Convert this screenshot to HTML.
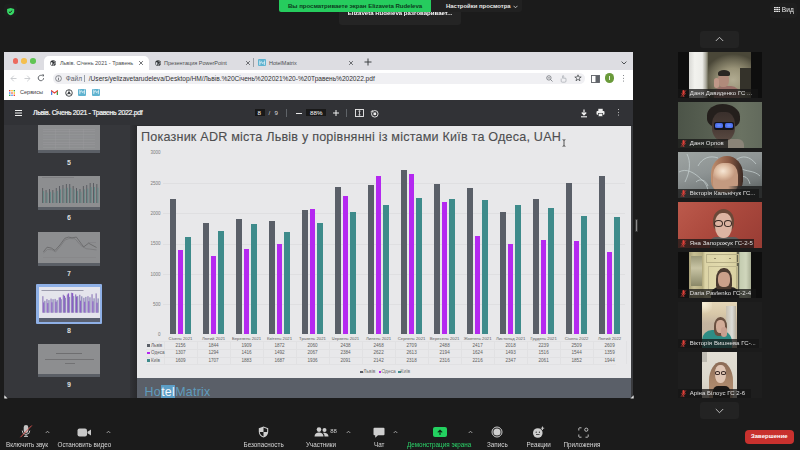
<!DOCTYPE html>
<html><head><meta charset="utf-8">
<style>
*{margin:0;padding:0;box-sizing:border-box}
html,body{width:800px;height:450px;overflow:hidden;background:#1b1b1b;font-family:"Liberation Sans",sans-serif}
.abs{position:absolute}
div{position:absolute}
span{white-space:nowrap}
/* zoom top */
#shield{left:4px;top:4px;width:13px;height:13px;border-radius:3px;background:#1e1e1e}
#banner{left:279px;top:0;width:152px;height:11.5px;background:#26cc5e;border-radius:0 0 0 2px;z-index:5}
#banner span{position:absolute;left:9px;top:2.3px;font-size:6.1px;font-weight:bold;color:#0c3d1d;letter-spacing:-0.05px}
#vset{left:431px;top:0;width:91px;height:12px;background:#212121;border-radius:0 0 3px 0}
#vset span{position:absolute;left:15px;top:2.6px;font-size:5.95px;font-weight:bold;color:#e8e8e8}
#tip{left:339px;top:11.5px;width:122px;height:13px;background:#242424;border-radius:0 0 3px 3px}
#tip span{position:absolute;left:8.7px;top:-1.3px;font-size:6.05px;font-weight:bold;color:#fff}
#vid{left:770px;top:2.5px;width:27px;height:15px;background:#1e1e1e;border-radius:3px}
#vid span{position:absolute;left:11.8px;top:3.8px;font-size:6.6px;color:#e8e8e8}
/* chrome */
#win{left:4px;top:52px;width:629px;height:346px;background:#fff;overflow:hidden}
#tabbar{left:0;top:0;width:629px;height:18px;background:#dddde2}
.dot{width:5.6px;height:5.6px;border-radius:50%;top:6.2px}
.tab{top:3.6px;height:14.4px}
.tab span{position:absolute;top:4.6px;font-size:5.5px;color:#4a4d50}
.x{position:absolute;font-size:8px;color:#555;top:1.6px}
#omni{left:48.8px;top:20.6px;width:532px;height:11.4px;background:#f0f0f3;border-radius:6px}
#omni span{position:absolute;top:2px;font-size:6.6px}
#bm{left:0;top:33px;width:629px;height:15px;background:#fff}
#pdftb{left:0;top:48px;width:629px;height:25px;background:#313236}
#pdftb span{position:absolute;color:#fff}
#side{left:0;top:73px;width:126px;height:280px;background:#36373b}
#sidegap{left:126px;top:73px;width:7px;height:280px;background:linear-gradient(90deg,#323337,#29292c)}
.thumb{left:34px;width:62px;height:34px;background:#8d8e90}
.thumb .ft{left:0;bottom:0;width:100%;height:3px;background:#5b5f66}
.tnum{left:60px;width:10px;text-align:center;font-size:6.3px;color:#eceef0;-webkit-text-stroke:0.2px #eceef0}
/* slide */
#slide{left:133px;top:74px;width:494px;height:280px;background:#e8e8ea;overflow:hidden}
#slidefoot{left:0;top:252px;width:494px;height:28px;background:#5a5f68}
#title{left:4px;top:3.8px;font-size:12.6px;color:#4e4e50;white-space:nowrap;letter-spacing:0.2px;-webkit-text-stroke:0.12px #4e4e50}
/* chart elements positioned in page coords -> use container offset */
#chart{left:-137px;top:-126px;width:800px;height:450px}
.bar{width:5.8px}
.grid{left:163px;width:462px;height:0.5px;background:#dfdfe1}
.ylab{left:146px;width:14.5px;text-align:right;font-size:4.5px;color:#7a7a7a}
.cat{width:33px;text-align:center;font-size:4.6px;color:#606060;white-space:nowrap}
/* zoom right */
.arrbtn{left:700px;width:38.5px;height:17px;background:#232323;border-radius:3px}
.tile{left:678px;width:83.6px;height:46.6px;overflow:hidden}
.tlab{left:0;bottom:0;height:9.2px;background:rgba(22,22,22,0.75)}
.tlab span{position:relative;display:block;margin-left:11.8px;margin-top:1.1px;font-size:6px;color:#e0e0e0;letter-spacing:0.05px}
/* bottom bar */
.bl{top:440.8px;font-size:6.3px;color:#d6d6d6;white-space:nowrap}
.car{font-size:6px;color:#bbb}
</style></head><body><div id="wrap" style="position:absolute;left:0;top:0;width:800px;height:450px;filter:blur(0.3px)">

<!-- top zoom bar -->
<div id="shield"><svg width="13" height="13" viewBox="0 0 13 13"><path d="M6.6 2.9L10.2 4.1V6.5C10.2 8.3 8.7 9.6 6.6 10.3 4.5 9.6 3.1 8.3 3.1 6.5V4.1Z" fill="#36d865"/><path d="M4.9 6.8L6 7.7 8.2 5.6" stroke="#1b1b1b" stroke-width="1" fill="none"/></svg></div>
<div id="banner"><span>Вы просматриваете экран Elizaveta Rudeleva</span></div>
<div id="vset"><span>Настройки просмотра</span><svg style="position:absolute;left:81.5px;top:4.5px" width="5" height="4" viewBox="0 0 5 4"><path d="M0.5 0.8L2.5 2.8 4.5 0.8" stroke="#ddd" stroke-width="0.8" fill="none"/></svg></div>
<div id="tip"><span>Elizaveta Rudeleva разговаривает...</span></div>
<div id="vid"><svg style="position:absolute;left:4px;top:4.4px" width="6.2" height="5" viewBox="0 0 6.2 5"><g fill="#e8e8e8"><rect x="0" y="0" width="1.8" height="1.2"/><rect x="2.2" y="0" width="1.8" height="1.2"/><rect x="4.4" y="0" width="1.8" height="1.2"/><rect x="0" y="1.9" width="1.8" height="1.2"/><rect x="2.2" y="1.9" width="1.8" height="1.2"/><rect x="4.4" y="1.9" width="1.8" height="1.2"/><rect x="0" y="3.8" width="1.8" height="1.2"/><rect x="2.2" y="3.8" width="1.8" height="1.2"/><rect x="4.4" y="3.8" width="1.8" height="1.2"/></g></svg><span>Вид</span></div>

<!-- chrome window -->
<div id="win">
  <div id="tabbar">
    <div class="dot" style="left:8.5px;background:#ec6a5e"></div>
    <div class="dot" style="left:17.2px;background:#f4bf4f"></div>
    <div class="dot" style="left:26px;background:#61c554"></div>
    <div class="tab" style="left:40.4px;width:104.6px;background:#fff;border-radius:5px 5px 0 0">
      <svg style="position:absolute;left:5.6px;top:4.2px" width="6.2" height="6.2" viewBox="0 0 10 10"><circle cx="5" cy="5" r="4.6" fill="#2e3134"/><path d="M1.6 3.6C2.8 3.2 4 3.6 4.2 4.6 4.4 5.6 3.4 6 3.6 7.2 3.7 8 4.2 8.6 4.2 9.2L2 7.5 1 5Z" fill="#fff"/><path d="M5.6 1.4C5.6 2.6 6.8 3 7.6 3.2 8.6 3.5 9 4.4 9.3 5.2 8.6 6 7.8 6.4 7 6 6.2 5.6 5.4 6.4 5.8 7.6 6 8.4 5.6 9 5 9.6" stroke="#fff" stroke-width="0.9" fill="none"/></svg>
      <span style="left:15.5px">Львів. Січень 2021 - Травень</span>
      <svg style="position:absolute;left:94px;top:4.6px" width="6" height="6" viewBox="0 0 6 6"><path d="M1.1 1.1L4.9 4.9M4.9 1.1L1.1 4.9" stroke="#45484c" stroke-width="0.75"/></svg>
    </div>
    <div class="tab" style="left:146px;width:103px">
      <svg style="position:absolute;left:5.2px;top:4.2px" width="6.2" height="6.2" viewBox="0 0 10 10"><circle cx="5" cy="5" r="4.6" fill="#2e3134"/><path d="M1.6 3.6C2.8 3.2 4 3.6 4.2 4.6 4.4 5.6 3.4 6 3.6 7.2 3.7 8 4.2 8.6 4.2 9.2L2 7.5 1 5Z" fill="#dee1e6"/><path d="M5.6 1.4C5.6 2.6 6.8 3 7.6 3.2 8.6 3.5 9 4.4 9.3 5.2 8.6 6 7.8 6.4 7 6 6.2 5.6 5.4 6.4 5.8 7.6 6 8.4 5.6 9 5 9.6" stroke="#dee1e6" stroke-width="0.9" fill="none"/></svg>
      <span style="left:14px">Презентация PowerPoint</span>
      <svg style="position:absolute;left:94.5px;top:4.6px" width="6" height="6" viewBox="0 0 6 6"><path d="M1.1 1.1L4.9 4.9M4.9 1.1L1.1 4.9" stroke="#45484c" stroke-width="0.75"/></svg>
    </div>
    <div style="left:249.4px;top:6px;width:0.8px;height:9px;background:#9aa0a6"></div>
    <div class="tab" style="left:252px;width:103px">
      <div style="left:2.2px;top:3.6px;width:7.5px;height:7.2px;background:#5fb3d0;border-radius:1px"></div>
      <svg style="position:absolute;left:2.7px;top:4.4px" width="6.5" height="5.6" viewBox="0 0 6.5 5.6"><path d="M0.8 0.5V5.1M0.8 2.8H2.4M5.7 0.5V5.1M5.7 2.8H4.1M2.4 1.4L4.1 4.2" stroke="#fff" stroke-width="0.7" fill="none"/></svg>
      <span style="left:13px">HotelMatrix</span>
      <svg style="position:absolute;left:92px;top:4.6px" width="6" height="6" viewBox="0 0 6 6"><path d="M1.1 1.1L4.9 4.9M4.9 1.1L1.1 4.9" stroke="#45484c" stroke-width="0.75"/></svg>
    </div>
    <svg style="position:absolute;left:359.5px;top:6.3px" width="8" height="8" viewBox="0 0 8 8"><path d="M4 0.5V7.5M0.5 4H7.5" stroke="#3c4043" stroke-width="1"/></svg>
    <svg style="position:absolute;left:616.5px;top:9.3px" width="6" height="4" viewBox="0 0 6 4"><path d="M0.6 0.6L3 3 5.4 0.6" stroke="#3c4043" stroke-width="0.9" fill="none"/></svg>
  </div>
  <!-- toolbar row -->
  <div style="left:0;top:18px;width:629px;height:15px;background:#fff"></div>
  <svg style="position:absolute;left:5.5px;top:22.5px" width="7" height="7" viewBox="0 0 7 7"><path d="M6.5 3.5H1M3.8 0.7L1 3.5 3.8 6.3" stroke="#c0c3c6" stroke-width="0.8" fill="none"/></svg>
  <svg style="position:absolute;left:19.8px;top:22.5px" width="7" height="7" viewBox="0 0 7 7"><path d="M0.5 3.5H6M3.2 0.7L6 3.5 3.2 6.3" stroke="#c0c3c6" stroke-width="0.8" fill="none"/></svg>
  <svg style="position:absolute;left:33.1px;top:22px" width="8" height="8" viewBox="0 0 8 8"><path d="M6.6 4.2A2.7 2.7 0 1 1 5.6 1.9" stroke="#5f6368" stroke-width="1" fill="none"/><path d="M4.6 0.4H7V2.8Z" fill="#5f6368"/></svg>
  <div id="omni">
    <svg style="position:absolute;left:2.5px;top:2.2px" width="7" height="7" viewBox="0 0 7 7"><circle cx="3.5" cy="3.5" r="2.9" stroke="#5f6368" stroke-width="0.7" fill="none"/><path d="M3.5 3V5.3M3.5 1.7V2.3" stroke="#5f6368" stroke-width="0.8"/></svg>
    <span style="left:13px;color:#5f6368">Файл</span>
    <div style="left:31.5px;top:2.2px;width:0.7px;height:7px;background:#9aa0a6"></div>
    <span style="left:36px;color:#303134;letter-spacing:-0.02px">/Users/yelizavetarudeleva/Desktop/HM/Львів.%20Січень%202021%20-%20Травень%202022.pdf</span>
    <svg style="position:absolute;left:493px;top:2.3px" width="7" height="7" viewBox="0 0 7 7"><circle cx="2.9" cy="2.9" r="2.2" stroke="#5f6368" stroke-width="0.7" fill="none"/><path d="M4.5 4.5L6.5 6.5M1.8 2.9H4" stroke="#5f6368" stroke-width="0.7"/></svg>
    <svg style="position:absolute;left:507px;top:2px" width="7" height="8" viewBox="0 0 7 8"><path d="M1.2 3.5V6.2A1 1 0 0 0 2.2 7.2H4.8A1.2 1.2 0 0 0 6 6V3.8A0.6 0.6 0 0 0 4.8 3.8M2.5 3.5V1.2A0.6 0.6 0 0 1 3.7 1.2V3.5M3.7 3.4A0.6 0.6 0 0 1 4.8 3.4" stroke="#9aa0a6" stroke-width="0.6" fill="none"/></svg>
    <svg style="position:absolute;left:521px;top:1.8px" width="8" height="8" viewBox="0 0 8 8"><path d="M4 0.8L4.9 3H7.2L5.3 4.4 6 6.8 4 5.3 2 6.8 2.7 4.4 0.8 3H3.1Z" stroke="#3c4043" stroke-width="0.7" fill="none"/></svg>
  </div>
  <svg style="position:absolute;left:587px;top:22.5px" width="9" height="8" viewBox="0 0 9 8"><rect x="0.5" y="0.5" width="8" height="7" stroke="#5f6368" stroke-width="0.9" fill="none"/><rect x="4.5" y="0.5" width="4" height="7" fill="#5f6368"/></svg>
  <div style="left:600.5px;top:21.2px;width:9.5px;height:9.5px;border-radius:50%;background:#6a9a3a"></div>
  <div style="left:604.8px;top:23.8px;width:1px;height:4.4px;background:#e8f0e0"></div>
  <div style="left:619px;top:22.6px;width:1.1px;height:1.1px;background:#5f6368;border-radius:50%;box-shadow:0 2.7px 0 #5f6368,0 5.4px 0 #5f6368"></div>
  <!-- bookmarks -->
  <div id="bm">
    <svg style="position:absolute;left:5px;top:4.5px" width="6" height="6" viewBox="0 0 6 6"><g><rect x="0" y="0" width="1.4" height="1.4" fill="#ea4335"/><rect x="2.3" y="0" width="1.4" height="1.4" fill="#fbbc04"/><rect x="4.6" y="0" width="1.4" height="1.4" fill="#34a853"/><rect x="0" y="2.3" width="1.4" height="1.4" fill="#4285f4"/><rect x="2.3" y="2.3" width="1.4" height="1.4" fill="#ea4335"/><rect x="4.6" y="2.3" width="1.4" height="1.4" fill="#fbbc04"/><rect x="0" y="4.6" width="1.4" height="1.4" fill="#34a853"/><rect x="2.3" y="4.6" width="1.4" height="1.4" fill="#4285f4"/><rect x="4.6" y="4.6" width="1.4" height="1.4" fill="#ea4335"/></g></svg>
    <span style="position:absolute;left:16px;top:3.7px;font-size:5.55px;color:#3c4043">Сервисы</span>
    <svg style="position:absolute;left:46.5px;top:4.8px" width="7" height="5.5" viewBox="0 0 7 5.5"><path d="M0.6 5.2V0.8L3.5 3 6.4 0.8V5.2" stroke="#ea4335" stroke-width="1.1" fill="none"/><path d="M0.6 5.2V1.5" stroke="#4285f4" stroke-width="1.1"/><path d="M6.4 5.2V1.5" stroke="#34a853" stroke-width="1.1"/></svg>
    <svg style="position:absolute;left:60.5px;top:3.5px" width="8" height="8" viewBox="0 0 8 8"><circle cx="4" cy="4" r="3.3" stroke="#3c4043" stroke-width="0.9" fill="none"/><circle cx="4" cy="4" r="1.2" fill="#3c4043"/><path d="M4 0.8V2.8M1.2 5.6L3 4.6M6.8 5.6L5 4.6" stroke="#3c4043" stroke-width="0.8"/></svg>
    <div style="left:74px;top:3.5px;width:7.5px;height:7.5px;background:#5fb3d0;border-radius:1px"></div>
    <svg style="position:absolute;left:74.5px;top:4.4px" width="6.5" height="5.6" viewBox="0 0 6.5 5.6"><path d="M0.8 0.5V5.1M0.8 2.8H2.4M5.7 0.5V5.1M5.7 2.8H4.1M2.4 1.4L4.1 4.2" stroke="#fff" stroke-width="0.7" fill="none"/></svg>
    <div style="left:88px;top:3.5px;width:7.5px;height:7.5px;background:#5fb3d0;border-radius:1px"></div>
    <svg style="position:absolute;left:88.5px;top:4.4px" width="6.5" height="5.6" viewBox="0 0 6.5 5.6"><path d="M0.8 0.5V5.1M0.8 2.8H2.4M5.7 0.5V5.1M5.7 2.8H4.1M2.4 1.4L4.1 4.2" stroke="#fff" stroke-width="0.7" fill="none"/></svg>
  </div>
  <!-- pdf toolbar -->
  <div id="pdftb">
    <div style="left:10.8px;top:9.8px;width:7px;height:0.9px;background:#f0f0f0;box-shadow:0 2.5px 0 #f0f0f0,0 5px 0 #f0f0f0"></div>
    <span style="left:29px;top:8.8px;font-size:6.9px;color:#f2f2f2;letter-spacing:-0.3px;-webkit-text-stroke:0.22px #f2f2f2">Львів. Січень 2021 - Травень 2022.pdf</span>
    <div style="left:251px;top:9px;width:10px;height:7.4px;background:#191919"></div>
    <span style="left:253.5px;top:9px;font-size:6.2px">8</span>
    <span style="left:264.5px;top:9px;font-size:6.2px;color:#ccc">/</span>
    <span style="left:270.5px;top:9px;font-size:6.2px;color:#ddd">9</span>
    <div style="left:282px;top:9px;width:0.7px;height:8px;background:#5f6368"></div>
    <div style="left:292px;top:12.5px;width:5.5px;height:1px;background:#e8e8e8"></div>
    <div style="left:302px;top:9px;width:20px;height:7.4px;background:#191919"></div>
    <span style="left:306px;top:9px;font-size:6.2px">88%</span>
    <svg style="position:absolute;left:328.5px;top:9.8px" width="6" height="6" viewBox="0 0 6 6"><path d="M3 0V6M0 3H6" stroke="#f0f0f0" stroke-width="1"/></svg>
    <div style="left:341.5px;top:9px;width:0.7px;height:8px;background:#5f6368"></div>
    <svg style="position:absolute;left:350.5px;top:9px" width="9" height="8" viewBox="0 0 9 8"><rect x="0.5" y="0.5" width="8" height="7" stroke="#eee" stroke-width="0.9" fill="none"/><path d="M4.5 2V6M3.5 2.2L4.5 1.5 5.5 2.2M3.5 5.8L4.5 6.5 5.5 5.8" stroke="#eee" stroke-width="0.8" fill="none"/></svg>
    <svg style="position:absolute;left:366px;top:8.5px" width="9" height="9" viewBox="0 0 9 9"><circle cx="4.8" cy="4.8" r="3.3" stroke="#eee" stroke-width="0.9" fill="none"/><rect x="3.5" y="3.5" width="2.6" height="2.6" fill="#eee"/><path d="M0.8 3.2L2 1.5 3.3 2.6" stroke="#eee" stroke-width="0.8" fill="none"/></svg>
    <svg style="position:absolute;left:576px;top:8.5px" width="8" height="9" viewBox="0 0 8 9"><path d="M4 0.5V5.5M1.8 3.5L4 5.8 6.2 3.5" stroke="#f4f4f4" stroke-width="1.2" fill="none"/><path d="M1 7.8H7" stroke="#f4f4f4" stroke-width="1.1"/></svg>
    <svg style="position:absolute;left:592px;top:8.3px" width="9" height="9" viewBox="0 0 9 9"><rect x="2.3" y="0.8" width="4.4" height="2.2" fill="#eee"/><rect x="0.5" y="3" width="8" height="3.8" rx="1" fill="#eee"/><rect x="2.3" y="5.5" width="4.4" height="3" fill="#eee" stroke="#323639" stroke-width="0.6"/></svg>
    <div style="left:614px;top:8.6px;width:1.2px;height:1.2px;background:#eee;border-radius:50%;box-shadow:0 2.8px 0 #eee,0 5.6px 0 #eee"></div>
  </div>
  <!-- sidebar -->
  <div style="left:0;top:73px;width:629px;height:280px;background:#2c2d30"></div>
  <div id="side">
    <div class="thumb" style="top:0px;height:28px"><div class="ft"></div><svg style="position:absolute;left:3px;top:2px" width="56" height="24" viewBox="0 0 56 24"><rect x="2" y="2.0" width="52" height="0.4" fill="#9c9d9f"/><rect x="2" y="4.6" width="52" height="0.4" fill="#9c9d9f"/><rect x="2" y="7.2" width="52" height="0.4" fill="#9c9d9f"/><rect x="2" y="9.8" width="52" height="0.4" fill="#9c9d9f"/><rect x="2" y="12.4" width="52" height="0.4" fill="#9c9d9f"/><rect x="2" y="15.0" width="52" height="0.4" fill="#9c9d9f"/><rect x="2" y="17.6" width="52" height="0.4" fill="#9c9d9f"/><rect x="2" y="20.2" width="52" height="0.4" fill="#9c9d9f"/><rect x="14" y="2" width="0.4" height="20" fill="#9a9b9d"/><rect x="28" y="2" width="0.4" height="20" fill="#9a9b9d"/><rect x="42" y="2" width="0.4" height="20" fill="#9a9b9d"/></svg></div>
    <div class="tnum" style="top:33.5px">5</div>
    <div class="thumb" style="top:51px"><div class="ft"></div>
      <svg style="position:absolute;left:3px;top:0px" width="58" height="31" viewBox="0 0 58 31"><rect x="1" y="1" width="32" height="0.5" fill="#707074"/><rect x="1.2" y="12" width="0.9" height="15" fill="#56595e"/><rect x="2.2" y="15.0" width="0.9" height="12.0" fill="#5f8886"/><rect x="4.6" y="14" width="0.9" height="13" fill="#56595e"/><rect x="5.6" y="16.6" width="0.9" height="10.4" fill="#5f8886"/><rect x="8.0" y="13" width="0.9" height="14" fill="#56595e"/><rect x="9.0" y="15.8" width="0.9" height="11.2" fill="#5f8886"/><rect x="11.4" y="14" width="0.9" height="13" fill="#56595e"/><rect x="12.4" y="16.6" width="0.9" height="10.4" fill="#5f8886"/><rect x="14.8" y="12" width="0.9" height="15" fill="#56595e"/><rect x="15.8" y="15.0" width="0.9" height="12.0" fill="#5f8886"/><rect x="18.1" y="10" width="0.9" height="17" fill="#56595e"/><rect x="19.1" y="13.4" width="0.9" height="13.6" fill="#5f8886"/><rect x="21.5" y="9" width="0.9" height="18" fill="#56595e"/><rect x="22.5" y="12.6" width="0.9" height="14.4" fill="#5f8886"/><rect x="24.9" y="8" width="0.9" height="19" fill="#56595e"/><rect x="25.9" y="11.8" width="0.9" height="15.2" fill="#5f8886"/><rect x="28.3" y="8" width="0.9" height="19" fill="#56595e"/><rect x="29.3" y="11.8" width="0.9" height="15.2" fill="#5f8886"/><rect x="31.7" y="10" width="0.9" height="17" fill="#56595e"/><rect x="32.7" y="13.4" width="0.9" height="13.6" fill="#5f8886"/><rect x="35.1" y="12" width="0.9" height="15" fill="#56595e"/><rect x="36.1" y="15.0" width="0.9" height="12.0" fill="#5f8886"/><rect x="38.5" y="13" width="0.9" height="14" fill="#56595e"/><rect x="39.5" y="15.8" width="0.9" height="11.2" fill="#5f8886"/><rect x="41.9" y="10" width="0.9" height="17" fill="#56595e"/><rect x="42.9" y="13.4" width="0.9" height="13.6" fill="#5f8886"/><rect x="45.3" y="9" width="0.9" height="18" fill="#56595e"/><rect x="46.3" y="12.6" width="0.9" height="14.4" fill="#5f8886"/><rect x="48.7" y="7" width="0.9" height="20" fill="#56595e"/><rect x="49.7" y="11.0" width="0.9" height="16.0" fill="#5f8886"/><rect x="52.1" y="7" width="0.9" height="20" fill="#56595e"/><rect x="53.1" y="11.0" width="0.9" height="16.0" fill="#5f8886"/><rect x="55.4" y="8" width="0.9" height="19" fill="#56595e"/><rect x="56.4" y="11.8" width="0.9" height="15.2" fill="#5f8886"/></svg>
    </div>
    <div class="tnum" style="top:89px">6</div>
    <div class="thumb" style="top:106.5px"><div class="ft"></div>
      <svg style="position:absolute;left:3px;top:3px" width="56" height="28" viewBox="0 0 56 28"><path d="M2.4 16.8L6.1 12.2 10.4 13.1 14 15.5 18.9 10 23.8 3.3 27.5 2.1 31 2.8 35.4 2.1 40.3 8.8 42.7 11.9 47.6 8.2 55.5 12.5" stroke="#5e5e60" stroke-width="0.7" fill="none"/><path d="M2.4 18L6.5 14.5 11 14.8 14.5 17 19.5 11 24 5 28 3.6 34 3.8 39 9.5 41 11.3 45.2 13.7 55.5 14.9" stroke="#6c6c6e" stroke-width="0.5" fill="none"/><path d="M47 7.5H55" stroke="#7a7a7c" stroke-width="0.4"/><path d="M2 22.5H55" stroke="#808082" stroke-width="0.4"/></svg>
    </div>
    <div class="tnum" style="top:144.5px">7</div>
    <div style="left:32px;top:159.2px;width:66px;height:39.7px;background:#8fb0e6;border-radius:1px"></div>
    <div class="thumb" style="top:161.6px;left:34.5px;width:61px;height:35px;background:#e4e4ec"><div class="ft" style="background:#5a6070;height:3.4px"></div>
      <svg style="position:absolute;left:0;top:0" width="61" height="35" viewBox="0 0 61 35"><rect x="2.5" y="3" width="42" height="0.6" fill="#6a6a80"/><rect x="3.2" y="9.2" width="1.3" height="16.5" fill="#9a88c0"/><rect x="4.2" y="15.4" width="1.3" height="10.3" fill="#8a58c8"/><rect x="5.2" y="13.8" width="1.3" height="11.9" fill="#9090b8"/><rect x="7.3" y="12.1" width="1.3" height="13.6" fill="#9a88c0"/><rect x="8.3" y="16.1" width="1.3" height="9.6" fill="#8a58c8"/><rect x="9.3" y="13.1" width="1.3" height="12.6" fill="#9090b8"/><rect x="11.4" y="11.6" width="1.3" height="14.1" fill="#9a88c0"/><rect x="12.4" y="15.3" width="1.3" height="10.4" fill="#8a58c8"/><rect x="13.4" y="12.2" width="1.3" height="13.5" fill="#9090b8"/><rect x="15.5" y="11.9" width="1.3" height="13.8" fill="#9a88c0"/><rect x="16.5" y="14.7" width="1.3" height="11.0" fill="#8a58c8"/><rect x="17.5" y="13.2" width="1.3" height="12.5" fill="#9090b8"/><rect x="19.6" y="10.5" width="1.3" height="15.2" fill="#9a88c0"/><rect x="20.6" y="10.4" width="1.3" height="15.3" fill="#8a58c8"/><rect x="21.6" y="12.2" width="1.3" height="13.5" fill="#9090b8"/><rect x="23.7" y="7.7" width="1.3" height="18.0" fill="#9a88c0"/><rect x="24.7" y="8.8" width="1.3" height="16.9" fill="#8a58c8"/><rect x="25.7" y="10.7" width="1.3" height="15.0" fill="#9090b8"/><rect x="27.8" y="7.5" width="1.3" height="18.2" fill="#9a88c0"/><rect x="28.8" y="6.4" width="1.3" height="19.3" fill="#8a58c8"/><rect x="29.8" y="9.9" width="1.3" height="15.8" fill="#9090b8"/><rect x="31.9" y="5.7" width="1.3" height="20.0" fill="#9a88c0"/><rect x="32.9" y="6.1" width="1.3" height="19.6" fill="#8a58c8"/><rect x="33.9" y="9.1" width="1.3" height="16.6" fill="#9090b8"/><rect x="36.0" y="7.4" width="1.3" height="18.3" fill="#9a88c0"/><rect x="37.0" y="9.5" width="1.3" height="16.2" fill="#8a58c8"/><rect x="38.0" y="9.2" width="1.3" height="16.5" fill="#9090b8"/><rect x="40.1" y="7.8" width="1.3" height="17.9" fill="#9a88c0"/><rect x="41.1" y="13.7" width="1.3" height="12.0" fill="#8a58c8"/><rect x="42.1" y="9.3" width="1.3" height="16.4" fill="#9090b8"/><rect x="44.2" y="10.8" width="1.3" height="14.9" fill="#9a88c0"/><rect x="45.2" y="14.7" width="1.3" height="11.0" fill="#8a58c8"/><rect x="46.2" y="9.9" width="1.3" height="15.8" fill="#9090b8"/><rect x="48.3" y="9.2" width="1.3" height="16.5" fill="#9a88c0"/><rect x="49.3" y="14.2" width="1.3" height="11.5" fill="#8a58c8"/><rect x="50.3" y="10.3" width="1.3" height="15.4" fill="#9090b8"/><rect x="52.4" y="7.2" width="1.3" height="18.5" fill="#9a88c0"/><rect x="53.4" y="14.3" width="1.3" height="11.4" fill="#8a58c8"/><rect x="54.4" y="11.3" width="1.3" height="14.4" fill="#9090b8"/><rect x="56.5" y="6.4" width="1.3" height="19.3" fill="#9a88c0"/><rect x="57.5" y="15.7" width="1.3" height="10.0" fill="#8a58c8"/><rect x="58.5" y="11.4" width="1.3" height="14.3" fill="#9090b8"/></svg>
    </div>
    <div class="tnum" style="top:201.5px">8</div>
    <div class="thumb" style="top:218.5px;height:33px"><div class="ft"></div>
      <div style="left:18px;top:9.8px;width:26px;height:0.9px;background:#6e6e70"></div>
      <div style="left:7.3px;top:15.8px;width:48.7px;height:0.9px;background:#727274"></div>
      <div style="left:27px;top:19.2px;width:9.7px;height:0.9px;background:#727274"></div>
    </div>
    <div class="tnum" style="top:256px">9</div>
  </div>
  <div id="sidegap"></div>
  <!-- slide -->
  <div id="slide">
    <div id="title">Показник ADR міста Львів у порівнянні із містами Київ та Одеса, UAH</div>
    <div id="chart">
<div class="ylab" style="top:150.4px">3000</div>
<div class="grid" style="top:183.1px"></div>
<div class="ylab" style="top:180.7px">2500</div>
<div class="grid" style="top:213.3px"></div>
<div class="ylab" style="top:210.9px">2000</div>
<div class="grid" style="top:243.6px"></div>
<div class="ylab" style="top:241.2px">1500</div>
<div class="grid" style="top:273.9px"></div>
<div class="ylab" style="top:271.5px">1000</div>
<div class="grid" style="top:304.1px"></div>
<div class="ylab" style="top:301.8px">500</div>
<div class="ylab" style="top:332.0px">0</div>
<div class="bar" style="left:170.1px;top:198.9px;height:135.5px;background:#5a5f68"></div>
<div class="bar" style="left:177.5px;top:250.0px;height:84.4px;background:#b428f0"></div>
<div class="bar" style="left:185.2px;top:236.9px;height:97.5px;background:#3e8b8b"></div>
<div class="bar" style="left:203.1px;top:222.9px;height:111.5px;background:#5a5f68"></div>
<div class="bar" style="left:210.5px;top:256.0px;height:78.4px;background:#b428f0"></div>
<div class="bar" style="left:218.2px;top:230.9px;height:103.5px;background:#3e8b8b"></div>
<div class="bar" style="left:236.1px;top:219.1px;height:115.3px;background:#5a5f68"></div>
<div class="bar" style="left:243.5px;top:248.9px;height:85.5px;background:#b428f0"></div>
<div class="bar" style="left:251.2px;top:224.0px;height:110.4px;background:#3e8b8b"></div>
<div class="bar" style="left:269.1px;top:220.9px;height:113.5px;background:#5a5f68"></div>
<div class="bar" style="left:276.5px;top:244.0px;height:90.4px;background:#b428f0"></div>
<div class="bar" style="left:284.2px;top:231.8px;height:102.6px;background:#3e8b8b"></div>
<div class="bar" style="left:302.1px;top:210.0px;height:124.4px;background:#5a5f68"></div>
<div class="bar" style="left:309.5px;top:209.3px;height:125.1px;background:#b428f0"></div>
<div class="bar" style="left:317.2px;top:223.3px;height:111.1px;background:#3e8b8b"></div>
<div class="bar" style="left:335.1px;top:187.1px;height:147.3px;background:#5a5f68"></div>
<div class="bar" style="left:342.5px;top:196.2px;height:138.2px;background:#b428f0"></div>
<div class="bar" style="left:350.2px;top:211.8px;height:122.6px;background:#3e8b8b"></div>
<div class="bar" style="left:368.2px;top:184.9px;height:149.5px;background:#5a5f68"></div>
<div class="bar" style="left:375.6px;top:176.0px;height:158.4px;background:#b428f0"></div>
<div class="bar" style="left:383.3px;top:204.9px;height:129.5px;background:#3e8b8b"></div>
<div class="bar" style="left:401.2px;top:170.4px;height:164.0px;background:#5a5f68"></div>
<div class="bar" style="left:408.6px;top:173.8px;height:160.6px;background:#b428f0"></div>
<div class="bar" style="left:416.3px;top:198.0px;height:136.4px;background:#3e8b8b"></div>
<div class="bar" style="left:434.2px;top:184.0px;height:150.4px;background:#5a5f68"></div>
<div class="bar" style="left:441.6px;top:201.8px;height:132.6px;background:#b428f0"></div>
<div class="bar" style="left:449.3px;top:199.1px;height:135.3px;background:#3e8b8b"></div>
<div class="bar" style="left:467.2px;top:188.0px;height:146.4px;background:#5a5f68"></div>
<div class="bar" style="left:474.6px;top:235.8px;height:98.6px;background:#b428f0"></div>
<div class="bar" style="left:482.3px;top:200.2px;height:134.2px;background:#3e8b8b"></div>
<div class="bar" style="left:500.2px;top:212.0px;height:122.4px;background:#5a5f68"></div>
<div class="bar" style="left:507.6px;top:244.0px;height:90.4px;background:#b428f0"></div>
<div class="bar" style="left:515.3px;top:204.7px;height:129.7px;background:#3e8b8b"></div>
<div class="bar" style="left:533.2px;top:199.1px;height:135.3px;background:#5a5f68"></div>
<div class="bar" style="left:540.6px;top:240.0px;height:94.4px;background:#b428f0"></div>
<div class="bar" style="left:548.3px;top:208.4px;height:126.0px;background:#3e8b8b"></div>
<div class="bar" style="left:566.2px;top:182.7px;height:151.7px;background:#5a5f68"></div>
<div class="bar" style="left:573.6px;top:240.9px;height:93.5px;background:#b428f0"></div>
<div class="bar" style="left:581.3px;top:216.2px;height:118.2px;background:#3e8b8b"></div>
<div class="bar" style="left:599.2px;top:176.4px;height:158.0px;background:#5a5f68"></div>
<div class="bar" style="left:606.6px;top:252.0px;height:82.4px;background:#b428f0"></div>
<div class="bar" style="left:614.3px;top:216.9px;height:117.5px;background:#3e8b8b"></div>
<div class="cat" style="left:164.0px;top:336.2px;font-size:4.25px">Січень 2021</div>
<div class="cat" style="left:164.0px;top:342.5px">2156</div>
<div class="cat" style="left:164.0px;top:350px">1307</div>
<div class="cat" style="left:164.0px;top:357.5px">1609</div>
<div class="cat" style="left:197.0px;top:336.2px;font-size:4.25px">Лютий 2021</div>
<div class="cat" style="left:197.0px;top:342.5px">1844</div>
<div class="cat" style="left:197.0px;top:350px">1294</div>
<div class="cat" style="left:197.0px;top:357.5px">1707</div>
<div class="cat" style="left:230.0px;top:336.2px;font-size:4.25px">Березень 2021</div>
<div class="cat" style="left:230.0px;top:342.5px">1909</div>
<div class="cat" style="left:230.0px;top:350px">1416</div>
<div class="cat" style="left:230.0px;top:357.5px">1883</div>
<div class="cat" style="left:263.0px;top:336.2px;font-size:4.25px">Квітень 2021</div>
<div class="cat" style="left:263.0px;top:342.5px">1872</div>
<div class="cat" style="left:263.0px;top:350px">1492</div>
<div class="cat" style="left:263.0px;top:357.5px">1687</div>
<div class="cat" style="left:296.0px;top:336.2px;font-size:4.25px">Травень 2021</div>
<div class="cat" style="left:296.0px;top:342.5px">2060</div>
<div class="cat" style="left:296.0px;top:350px">2067</div>
<div class="cat" style="left:296.0px;top:357.5px">1936</div>
<div class="cat" style="left:329.0px;top:336.2px;font-size:4.25px">Червень 2021</div>
<div class="cat" style="left:329.0px;top:342.5px">2438</div>
<div class="cat" style="left:329.0px;top:350px">2384</div>
<div class="cat" style="left:329.0px;top:357.5px">2091</div>
<div class="cat" style="left:362.1px;top:336.2px;font-size:4.25px">Липень 2021</div>
<div class="cat" style="left:362.1px;top:342.5px">2468</div>
<div class="cat" style="left:362.1px;top:350px">2622</div>
<div class="cat" style="left:362.1px;top:357.5px">2142</div>
<div class="cat" style="left:395.1px;top:336.2px;font-size:4.25px">Серпень 2021</div>
<div class="cat" style="left:395.1px;top:342.5px">2709</div>
<div class="cat" style="left:395.1px;top:350px">2613</div>
<div class="cat" style="left:395.1px;top:357.5px">2318</div>
<div class="cat" style="left:428.1px;top:336.2px;font-size:4.25px">Вересень 2021</div>
<div class="cat" style="left:428.1px;top:342.5px">2488</div>
<div class="cat" style="left:428.1px;top:350px">2194</div>
<div class="cat" style="left:428.1px;top:357.5px">2316</div>
<div class="cat" style="left:461.1px;top:336.2px;font-size:4.25px">Жовтень 2021</div>
<div class="cat" style="left:461.1px;top:342.5px">2417</div>
<div class="cat" style="left:461.1px;top:350px">1624</div>
<div class="cat" style="left:461.1px;top:357.5px">2216</div>
<div class="cat" style="left:494.1px;top:336.2px;font-size:4.25px">Листопад 2021</div>
<div class="cat" style="left:494.1px;top:342.5px">2018</div>
<div class="cat" style="left:494.1px;top:350px">1493</div>
<div class="cat" style="left:494.1px;top:357.5px">2347</div>
<div class="cat" style="left:527.1px;top:336.2px;font-size:4.25px">Грудень 2021</div>
<div class="cat" style="left:527.1px;top:342.5px">2239</div>
<div class="cat" style="left:527.1px;top:350px">1516</div>
<div class="cat" style="left:527.1px;top:357.5px">2061</div>
<div class="cat" style="left:560.1px;top:336.2px;font-size:4.25px">Січень 2022</div>
<div class="cat" style="left:560.1px;top:342.5px">2509</div>
<div class="cat" style="left:560.1px;top:350px">1544</div>
<div class="cat" style="left:560.1px;top:357.5px">1852</div>
<div class="cat" style="left:593.1px;top:336.2px;font-size:4.25px">Лютий 2022</div>
<div class="cat" style="left:593.1px;top:342.5px">2609</div>
<div class="cat" style="left:593.1px;top:350px">1359</div>
<div class="cat" style="left:593.1px;top:357.5px">1944</div>
      <div style="left:163.8px;top:341px;width:0.5px;height:23px;background:#e1e1e3"></div>
<div style="left:196.8px;top:341px;width:0.5px;height:23px;background:#e1e1e3"></div>
<div style="left:229.8px;top:341px;width:0.5px;height:23px;background:#e1e1e3"></div>
<div style="left:262.8px;top:341px;width:0.5px;height:23px;background:#e1e1e3"></div>
<div style="left:295.8px;top:341px;width:0.5px;height:23px;background:#e1e1e3"></div>
<div style="left:328.8px;top:341px;width:0.5px;height:23px;background:#e1e1e3"></div>
<div style="left:361.9px;top:341px;width:0.5px;height:23px;background:#e1e1e3"></div>
<div style="left:394.9px;top:341px;width:0.5px;height:23px;background:#e1e1e3"></div>
<div style="left:427.9px;top:341px;width:0.5px;height:23px;background:#e1e1e3"></div>
<div style="left:460.9px;top:341px;width:0.5px;height:23px;background:#e1e1e3"></div>
<div style="left:493.9px;top:341px;width:0.5px;height:23px;background:#e1e1e3"></div>
<div style="left:526.9px;top:341px;width:0.5px;height:23px;background:#e1e1e3"></div>
<div style="left:559.9px;top:341px;width:0.5px;height:23px;background:#e1e1e3"></div>
<div style="left:592.9px;top:341px;width:0.5px;height:23px;background:#e1e1e3"></div>
<div style="left:625.9px;top:341px;width:0.5px;height:23px;background:#e1e1e3"></div>
      <div style="left:146px;top:341px;width:470px;height:0.5px;background:#e1e1e3"></div>
      <div style="left:146px;top:349px;width:470px;height:0.5px;background:#e1e1e3"></div>
      <div style="left:146px;top:356.5px;width:470px;height:0.5px;background:#e1e1e3"></div>
      <div style="left:146px;top:364px;width:470px;height:0.5px;background:#e1e1e3"></div>
      <div style="left:147px;top:344px;width:2.6px;height:2.6px;background:#5a5f68"></div>
      <div class="cat" style="left:151px;top:342.5px;width:auto;text-align:left">Львів</div>
      <div style="left:147px;top:351.5px;width:2.6px;height:2.6px;background:#b428f0"></div>
      <div class="cat" style="left:151px;top:350px;width:auto;text-align:left">Одеса</div>
      <div style="left:147px;top:359px;width:2.6px;height:2.6px;background:#3e8b8b"></div>
      <div class="cat" style="left:151px;top:357.5px;width:auto;text-align:left">Київ</div>
      <div style="left:360.3px;top:370.5px;width:2.5px;height:2.5px;background:#5a5f68"></div>
      <div class="cat" style="left:363.3px;top:369px;width:auto;text-align:left;font-size:4.9px;color:#707070">Львів</div>
      <div style="left:378.5px;top:370.5px;width:2.5px;height:2.5px;background:#b428f0"></div>
      <div class="cat" style="left:381.4px;top:369px;width:auto;text-align:left;font-size:4.9px;color:#707070">Одеса</div>
      <div style="left:398px;top:370.5px;width:2.5px;height:2.5px;background:#3e8b8b"></div>
      <div class="cat" style="left:400.6px;top:369px;width:auto;text-align:left;font-size:4.9px;color:#707070">Київ</div>
      <svg style="position:absolute;left:562.3px;top:138.8px" width="4" height="8" viewBox="0 0 4 8"><path d="M0.6 0.6Q2 0.6 2 1.6V6.4Q2 7.4 0.6 7.4M3.4 0.6Q2 0.6 2 1.6M3.4 7.4Q2 7.4 2 6.4" stroke="#1a1a1a" stroke-width="0.7" fill="none"/></svg>
    </div>
    <div id="slidefoot">
      <div style="left:7.5px;top:6.5px;font-size:12.4px;color:#5e9cbe;letter-spacing:0.25px;white-space:nowrap">Ho<span style="background:#5c9ec6;color:#f4f8fb;padding:0 0.3px">tel</span>Matrix</div>
    </div>
  </div>
  <div style="left:627px;top:74px;width:2px;height:272px;background:#3a3b3e"></div>
</div>

<svg style="position:absolute;left:3.5px;top:394.5px" width="4" height="4" viewBox="0 0 4 4"><path d="M0.3 0.3L3.6 3.4H0.3Z" fill="#e8e8e8"/></svg>
<svg style="position:absolute;left:629.5px;top:394.5px" width="4" height="4" viewBox="0 0 4 4"><path d="M3.7 0.3L0.4 3.4H3.7Z" fill="#e8e8e8"/></svg>
<!-- right panel -->
<div class="arrbtn" style="top:31px"><svg style="position:absolute;left:14.5px;top:5px" width="9" height="6" viewBox="0 0 9 6"><path d="M0.8 5L4.5 1.3 8.2 5" stroke="#ccc" stroke-width="0.9" fill="none"/></svg></div>
<div class="tile" style="top:51.7px;background:#0e0e0e"><div style="left:10.8px;top:0;width:62px;height:47px;background:radial-gradient(ellipse 30px 26px at 44px 28px,#b2ac92 0,#999378 45%,#6a6652 80%,#4a4738 100%)"></div>
<div style="left:10.8px;top:0;width:19px;height:47px;background:linear-gradient(90deg,#d8d8d4 0,#f2f2ee 30%,#ecece8 70%,#a8a69a 90%,#6a6854 100%)"></div>
<div style="left:62px;top:16px;width:10.8px;height:24px;background:#34322a"></div>
<div style="left:36px;top:34px;width:26px;height:13px;border-radius:9px 9px 0 0;background:#9a7068"></div>
<div style="left:40px;top:21px;width:11px;height:14px;border-radius:45%;background:#b08a7a"></div>
<div style="left:39.5px;top:18.5px;width:12px;height:6px;border-radius:50% 50% 25% 25%;background:#2a2622"></div>
<div style="left:35.5px;top:26px;width:5px;height:10px;border-radius:3px;background:#c09888"></div>
<div class="tlab" style="width:80px"><svg width="7" height="7" viewBox="0 0 10 10" style="position:absolute;left:2px;top:1.1px"><path d="M3.5 1.5a1.5 1.5 0 0 1 3 0v3a1.5 1.5 0 0 1-3 0z" fill="#e0403a"/><path d="M2.3 4.2a2.7 2.7 0 0 0 5.4 0M5 7v2M3.5 9h3" stroke="#e0403a" stroke-width="0.9" fill="none"/><path d="M1.5 9.5L8.5 0.5" stroke="#e0403a" stroke-width="1"/></svg><span>Даня Давиденко ГС ...</span></div></div>
<div class="tile" style="top:101.7px;background:#5c6358"><div style="left:0;top:0;width:84px;height:47px;background:linear-gradient(90deg,#4c5448 0,#586052 40%,#6a7262 75%,#626a5c 100%)"></div>
<div style="left:36px;top:37px;width:30px;height:10px;background:#8a8478;border-radius:6px 6px 0 0"></div>
<div style="left:29px;top:2.5px;width:33px;height:24px;border-radius:50% 55% 35% 40%;background:#241f1c"></div>
<div style="left:34px;top:10px;width:23px;height:29px;border-radius:40% 40% 45% 45%;background:linear-gradient(180deg,#3a302c 0,#4a3c36 60%,#5a4a42 100%)"></div>
<div style="left:35.5px;top:20.3px;width:20.5px;height:7.6px;background:#14141c;border-radius:2px"></div>
<div style="left:36.6px;top:21.4px;width:8.4px;height:5.4px;background:radial-gradient(ellipse at 50% 50%,#6a90ff 0,#3c5ad8 100%);border-radius:1.5px"></div>
<div style="left:46.5px;top:21.4px;width:8.4px;height:5.4px;background:radial-gradient(ellipse at 50% 50%,#6a90ff 0,#3c5ad8 100%);border-radius:1.5px"></div>
<div class="tlab" style="width:50px"><svg width="7" height="7" viewBox="0 0 10 10" style="position:absolute;left:2px;top:1.1px"><path d="M3.5 1.5a1.5 1.5 0 0 1 3 0v3a1.5 1.5 0 0 1-3 0z" fill="#e0403a"/><path d="M2.3 4.2a2.7 2.7 0 0 0 5.4 0M5 7v2M3.5 9h3" stroke="#e0403a" stroke-width="0.9" fill="none"/><path d="M1.5 9.5L8.5 0.5" stroke="#e0403a" stroke-width="1"/></svg><span>Даня Орлов</span></div></div>
<div class="tile" style="top:151.7px;background:#8c9090"><div style="left:0;top:0;width:84px;height:47px;background:linear-gradient(160deg,#a0a6a4 0,#90969600 0),linear-gradient(165deg,#9ea4a2 0,#8e9494 40%,#747a7a 70%,#4a5050 100%)"></div>
<svg style="position:absolute;left:0;top:0" width="84" height="47" viewBox="0 0 84 47"><path d="M1 20C8 16 16 20 24 28C28 31 30 36 30 40M9 2C13 10 12 20 7 30M20 14C24 6 32 3 40 6M58 8C64 3 72 4 78 12M62 16C68 20 76 18 82 24M60 28C64 22 70 24 72 32M18 30C22 26 28 28 30 34" stroke="#cdd6d6" stroke-width="0.9" fill="none" opacity="0.75"/></svg>
<div style="left:33px;top:4px;width:32px;height:36px;border-radius:50% 50% 30% 30%;background:linear-gradient(90deg,#c09070 0,#8a5a44 55%,#3a2a24 100%)"></div>
<div style="left:34.5px;top:11px;width:25px;height:30px;border-radius:40% 40% 30% 30%;background:radial-gradient(ellipse 12px 10px at 10px 8px,#f6e6d4 0,#e0c0a6 55%,#c49a80 100%)"></div>
<div style="left:50px;top:34px;width:34px;height:13px;background:linear-gradient(90deg,rgba(40,42,42,0),#2a2c2c 40%)"></div>
<div class="tlab" style="width:81px"><svg width="7" height="7" viewBox="0 0 10 10" style="position:absolute;left:2px;top:1.1px"><path d="M3.5 1.5a1.5 1.5 0 0 1 3 0v3a1.5 1.5 0 0 1-3 0z" fill="#e0403a"/><path d="M2.3 4.2a2.7 2.7 0 0 0 5.4 0M5 7v2M3.5 9h3" stroke="#e0403a" stroke-width="0.9" fill="none"/><path d="M1.5 9.5L8.5 0.5" stroke="#e0403a" stroke-width="1"/></svg><span>Вікторія Кальнічук ГС...</span></div></div>
<div class="tile" style="top:201.7px;background:#a8493a"><div style="left:0;top:0;width:84px;height:47px;background:linear-gradient(135deg,#bc5a4c 0,#ac4a3e 45%,#983c34 100%)"></div>
<div style="left:32px;top:35px;width:30px;height:12px;background:#5e5c5a;border-radius:6px 6px 0 0"></div>
<div style="left:35px;top:7px;width:21px;height:24px;border-radius:50% 50% 40% 40%;background:#6a4838"></div>
<div style="left:36.5px;top:11px;width:17.5px;height:25px;border-radius:40% 40% 45% 45%;background:#dcb4a2"></div>
<div style="left:36px;top:18.5px;width:8.5px;height:7px;border:1.3px solid #3a2a24;border-radius:50%"></div>
<div style="left:45.5px;top:18.5px;width:8.5px;height:7px;border:1.3px solid #3a2a24;border-radius:50%"></div>
<div class="tlab" style="width:76px"><svg width="7" height="7" viewBox="0 0 10 10" style="position:absolute;left:2px;top:1.1px"><path d="M3.5 1.5a1.5 1.5 0 0 1 3 0v3a1.5 1.5 0 0 1-3 0z" fill="#e0403a"/><path d="M2.3 4.2a2.7 2.7 0 0 0 5.4 0M5 7v2M3.5 9h3" stroke="#e0403a" stroke-width="0.9" fill="none"/><path d="M1.5 9.5L8.5 0.5" stroke="#e0403a" stroke-width="1"/></svg><span>Яна Запорожук ГС-2-5</span></div></div>
<div class="tile" style="top:251.7px;background:#0e0e0e"><div style="left:10.8px;top:0;width:62px;height:47px;background:linear-gradient(90deg,#a8a078 0,#c8c094 8%,#b4ac80 22%,#dcd4a6 26%,#e2daae 55%,#d8d0a0 76%,#3a3a2e 79%,#c4ccb0 82%,#d0d6bc 92%,#a8ae94 100%)"></div>
<div style="left:13px;top:4px;width:11px;height:30px;background:linear-gradient(180deg,#9a9878,#c8c4a4 40%,#8a8868)"></div>
<div style="left:28px;top:2.5px;width:33px;height:9px;border:0.8px solid #b8b088"></div>
<div style="left:36px;top:6px;width:1.6px;height:1.6px;border-radius:50%;background:#8a8060"></div>
<div style="left:51px;top:6px;width:1.6px;height:1.6px;border-radius:50%;background:#8a8060"></div>
<div style="left:30px;top:14px;width:30px;height:30px;border:0.6px solid #c0b890"></div>
<div style="left:33px;top:35px;width:28px;height:12px;background:#262220;border-radius:8px 8px 0 0"></div>
<div style="left:38px;top:16px;width:15.5px;height:23px;border-radius:48% 48% 25% 25%;background:#4a3a30"></div>
<div style="left:40px;top:20px;width:11.5px;height:15px;border-radius:40%;background:#caa08a"></div>
<div class="tlab" style="width:78px"><svg width="7" height="7" viewBox="0 0 10 10" style="position:absolute;left:2px;top:1.1px"><path d="M3.5 1.5a1.5 1.5 0 0 1 3 0v3a1.5 1.5 0 0 1-3 0z" fill="#e0403a"/><path d="M2.3 4.2a2.7 2.7 0 0 0 5.4 0M5 7v2M3.5 9h3" stroke="#e0403a" stroke-width="0.9" fill="none"/><path d="M1.5 9.5L8.5 0.5" stroke="#e0403a" stroke-width="1"/></svg><span>Daria Pavlenko ГС-2-4</span></div></div>
<div class="tile" style="top:301.7px;background:#1e1e1e"><div style="left:24px;top:0;width:35px;height:47px;background:linear-gradient(180deg,#e4d6b8 0,#d8c8a8 25%,#c4b4a0 45%,#c0b09c 100%)"></div>
<div style="left:24px;top:0;width:10px;height:12px;background:radial-gradient(circle at 2px 2px,#f8f0d8,rgba(248,240,216,0) 10px)"></div>
<div style="left:48px;top:4px;width:10px;height:40px;background:linear-gradient(90deg,#c8c0b0,#dcdcd8 60%,#b8b0a0)"></div>
<div style="left:24px;top:28px;width:30px;height:19px;background:#2e8c84;border-radius:10px 12px 0 0"></div>
<div style="left:36px;top:15px;width:13px;height:19px;border-radius:48% 48% 30% 30%;background:#6a5040"></div>
<div style="left:38px;top:18px;width:9px;height:13px;border-radius:40%;background:#d2ac98"></div>
<div style="left:43px;top:25px;width:6px;height:10px;border-radius:3px;background:#c8a090"></div>
<div class="tlab" style="width:81px"><svg width="7" height="7" viewBox="0 0 10 10" style="position:absolute;left:2px;top:1.1px"><path d="M3.5 1.5a1.5 1.5 0 0 1 3 0v3a1.5 1.5 0 0 1-3 0z" fill="#e0403a"/><path d="M2.3 4.2a2.7 2.7 0 0 0 5.4 0M5 7v2M3.5 9h3" stroke="#e0403a" stroke-width="0.9" fill="none"/><path d="M1.5 9.5L8.5 0.5" stroke="#e0403a" stroke-width="1"/></svg><span>Вікторія Вишнева ГС-...</span></div></div>
<div class="tile" style="top:351.7px;background:#1e1e1e"><div style="left:24px;top:0;width:35px;height:47px;background:linear-gradient(180deg,#e2ded4 0,#dcd8cc 60%,#d0c8bc 100%)"></div>
<div style="left:24px;top:0;width:5px;height:10px;background:#9a9890;opacity:0.5"></div>
<div style="left:31px;top:10px;width:24px;height:37px;border-radius:50% 50% 10% 10%;background:linear-gradient(180deg,#8a6a54 0,#a88468 50%,#b89478 100%)"></div>
<div style="left:35px;top:34px;width:17px;height:13px;background:#1c1816;border-radius:5px 5px 0 0"></div>
<div style="left:37px;top:13px;width:11px;height:18px;border-radius:42% 42% 45% 45%;background:#e0c6b4"></div>
<div style="left:36.5px;top:19px;width:5.5px;height:4px;border:0.8px solid #3a2a26;border-radius:40%"></div>
<div style="left:42.5px;top:19px;width:5.5px;height:4px;border:0.8px solid #3a2a26;border-radius:40%"></div>
<div class="tlab" style="width:73px"><svg width="7" height="7" viewBox="0 0 10 10" style="position:absolute;left:2px;top:1.1px"><path d="M3.5 1.5a1.5 1.5 0 0 1 3 0v3a1.5 1.5 0 0 1-3 0z" fill="#e0403a"/><path d="M2.3 4.2a2.7 2.7 0 0 0 5.4 0M5 7v2M3.5 9h3" stroke="#e0403a" stroke-width="0.9" fill="none"/><path d="M1.5 9.5L8.5 0.5" stroke="#e0403a" stroke-width="1"/></svg><span>Аріна Білоус ГС 2-6</span></div></div>
<div class="arrbtn" style="top:402px"><svg style="position:absolute;left:14.5px;top:6px" width="9" height="6" viewBox="0 0 9 6"><path d="M0.8 1L4.5 4.7 8.2 1" stroke="#ccc" stroke-width="0.9" fill="none"/></svg></div>
<div style="left:635px;top:218.5px;width:2.6px;height:13.5px;background:#8c8c8c;border:0.6px solid #3a3a3a;border-radius:1px"></div>

<!-- bottom toolbar -->
<svg style="position:absolute;left:19px;top:424px" width="14" height="14" viewBox="0 0 14 14"><path d="M4.7 3.2a2.3 2.3 0 0 1 4.6 0v3.6a2.3 2.3 0 0 1-4.6 0z" fill="#c4c4c4"/><path d="M3.2 6.6a3.8 3.8 0 0 0 7.6 0M7 10.4v1.8M5 12.4h4" stroke="#c4c4c4" stroke-width="1" fill="none"/><path d="M1.5 13.2L12.8 1.5" stroke="#d9534f" stroke-width="1"/></svg>
<div class="bl" style="left:6px">Включить звук</div>
<svg style="position:absolute;left:45px;top:430px" width="5" height="4" viewBox="0 0 5 4"><path d="M0.7 3L2.5 1.2 4.3 3" stroke="#bbb" stroke-width="0.8" fill="none"/></svg>
<svg style="position:absolute;left:77px;top:427.5px" width="15" height="9" viewBox="0 0 15 9"><rect x="0.5" y="0.5" width="9.5" height="8" rx="2" fill="#c8c8c8"/><path d="M10.5 3.8L14 1.5V7.5L10.5 5.2Z" fill="#c8c8c8"/></svg>
<div class="bl" style="left:57.5px">Остановить видео</div>
<svg style="position:absolute;left:106px;top:430px" width="5" height="4" viewBox="0 0 5 4"><path d="M0.7 3L2.5 1.2 4.3 3" stroke="#bbb" stroke-width="0.8" fill="none"/></svg>

<svg style="position:absolute;left:257.5px;top:426px" width="11" height="12" viewBox="0 0 11 12"><path d="M5.5 0.5L10.2 2.3V6C10.2 8.6 8.2 10.6 5.5 11.5 2.8 10.6 0.8 8.6 0.8 6V2.3Z" fill="#cfcfcf"/><path d="M5.5 1.5V10.5C3.4 9.8 1.9 8.2 1.8 6H5.5Z" fill="#1b1b1b"/><path d="M5.5 6H9.2C9 4.5 9.2 3.5 9.2 3L5.5 1.6Z" fill="#1b1b1b"/></svg>
<div class="bl" style="left:243.5px">Безопасность</div>

<svg style="position:absolute;left:314px;top:427px" width="15" height="10" viewBox="0 0 15 10"><circle cx="5" cy="2.6" r="2.3" fill="#cfcfcf"/><path d="M0.5 9.5C0.5 6.8 2.5 5.5 5 5.5S9.5 6.8 9.5 9.5Z" fill="#cfcfcf"/><circle cx="10.5" cy="3" r="2" fill="#cfcfcf"/><path d="M9 5.9C10.2 5.5 14.5 5.8 14.5 9.5H10.5C10.5 8 10.2 6.8 9 5.9Z" fill="#cfcfcf"/></svg>
<span style="position:absolute;left:330.2px;top:427.6px;font-size:6px;color:#cfcfcf">88</span>
<div class="bl" style="left:306px">Участники</div>
<svg style="position:absolute;left:346.4px;top:430px" width="5" height="4" viewBox="0 0 5 4"><path d="M0.7 3L2.5 1.2 4.3 3" stroke="#bbb" stroke-width="0.8" fill="none"/></svg>

<svg style="position:absolute;left:372.5px;top:426.5px" width="12" height="12" viewBox="0 0 12 12"><path d="M1.5 0.8H10.5A1 1 0 0 1 11.5 1.8V7.2A1 1 0 0 1 10.5 8.2H5L2.2 10.8V8.2H1.5A1 1 0 0 1 0.5 7.2V1.8A1 1 0 0 1 1.5 0.8Z" fill="#cfcfcf"/></svg>
<div class="bl" style="left:374px">Чат</div>
<svg style="position:absolute;left:393px;top:430px" width="5" height="4" viewBox="0 0 5 4"><path d="M0.7 3L2.5 1.2 4.3 3" stroke="#bbb" stroke-width="0.8" fill="none"/></svg>

<div style="left:432.5px;top:427px;width:14px;height:9.5px;background:#23d160;border-radius:2px"></div>
<svg style="position:absolute;left:436.5px;top:428.5px" width="6" height="6.5" viewBox="0 0 6 6.5"><path d="M3 6V1.2M0.8 3.4L3 1.2 5.2 3.4" stroke="#0b2a14" stroke-width="1.1" fill="none"/></svg>
<div class="bl" style="left:407px;color:#2bd46a">Демонстрация экрана</div>
<svg style="position:absolute;left:467.5px;top:430px" width="5" height="4" viewBox="0 0 5 4"><path d="M0.7 3L2.5 1.2 4.3 3" stroke="#bbb" stroke-width="0.8" fill="none"/></svg>

<svg style="position:absolute;left:491px;top:426px" width="12" height="12" viewBox="0 0 12 12"><circle cx="6" cy="6" r="5" stroke="#cfcfcf" stroke-width="1" fill="none"/><circle cx="6" cy="6" r="3.6" fill="#cfcfcf"/></svg>
<div class="bl" style="left:487px">Запись</div>

<svg style="position:absolute;left:532px;top:425.5px" width="13" height="13" viewBox="0 0 13 13"><circle cx="5.8" cy="7" r="4.8" fill="#cfcfcf"/><circle cx="4.2" cy="6.2" r="0.6" fill="#1b1b1b"/><circle cx="7.4" cy="6.2" r="0.6" fill="#1b1b1b"/><path d="M4 8.5H7.6" stroke="#1b1b1b" stroke-width="0.7"/><path d="M10.5 0.5V4M8.8 2.2H12.2" stroke="#cfcfcf" stroke-width="0.9"/></svg>
<div class="bl" style="left:526.5px">Реакции</div>

<svg style="position:absolute;left:578px;top:426.5px" width="11" height="11" viewBox="0 0 11 11"><path d="M3.5 0.8H1.5A0.8 0.8 0 0 0 0.8 1.5V3.5M0.8 7.5V9.5A0.8 0.8 0 0 0 1.5 10.2H3.5M7.5 10.2H9.5A0.8 0.8 0 0 0 10.2 9.5V7.5" stroke="#cfcfcf" stroke-width="0.9" fill="none"/><circle cx="8.3" cy="2.7" r="1.6" stroke="#cfcfcf" stroke-width="0.9" fill="none"/></svg>
<div class="bl" style="left:563.5px">Приложения</div>

<div style="left:745px;top:429.6px;width:49px;height:14px;background:#c8312e;border-radius:4px"></div>
<span style="position:absolute;left:751px;top:433px;font-size:6px;font-weight:bold;color:#fff">Завершение</span>

</div></body></html>
